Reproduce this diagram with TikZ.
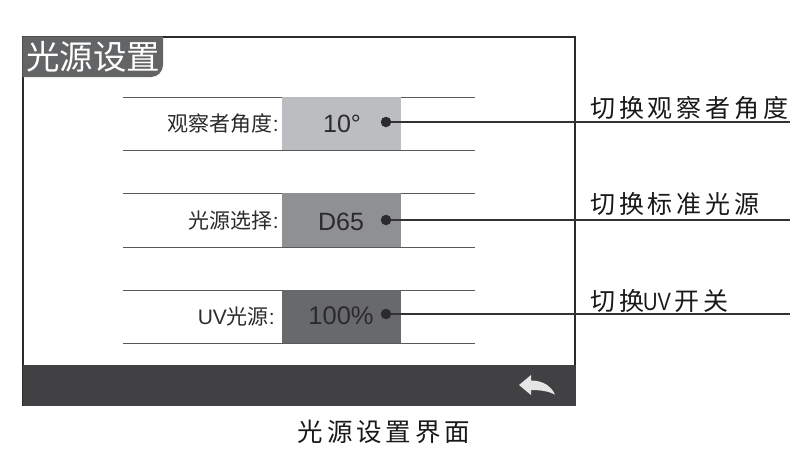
\documentclass[tikz,border=0pt]{standalone}
\usepackage{fontspec}
\setmainfont{Liberation Sans}
\newfontfamily\cjk{Noto Sans CJK SC}
\newfontfamily\cjkwide[LetterSpace=15.5]{Noto Sans CJK SC}
\newfontfamily\narrowlatin[FakeStretch=0.8]{Liberation Sans}
\definecolor{barGray}{HTML}{414042}
\definecolor{tabGray}{HTML}{636466}
\definecolor{boxA}{HTML}{BCBDC0}
\definecolor{boxB}{HTML}{8F9092}
\definecolor{boxC}{HTML}{68696B}
\definecolor{inkGray}{HTML}{2B2A2C}
\tikzset{
	x=1pt, y=-1pt,
	rowline/.style={line width=0.9pt, color=black!65},
	rowbox/.style={anchor=north west, minimum width=119pt, inner sep=0pt, outer sep=0pt},
	rowname/.style={anchor=east, inner sep=0pt, text=inkGray, font=\cjk\fontsize{21}{21}\selectfont},
	rowvalue/.style={inner sep=0pt, text=inkGray, font=\fontsize{25}{25}\selectfont},
	pointdot/.style={circle, fill=inkGray, minimum size=10.5pt, inner sep=0pt},
	leader/.style={line width=1.4pt, color=black!80},
	sidelabel/.style={anchor=west, inner sep=0pt, text=black!90, font=\cjkwide\fontsize{25}{25}\selectfont},
}
\begin{document}
\begin{tikzpicture}
	\useasboundingbox (0, 0) rectangle (805, 467);

	%%%%% screen %%%%%
	\draw[line width=1.2pt, color=inkGray] (23, 37) rectangle (575, 405);
	\fill[barGray] (23, 365) rectangle (575.6, 405.6);
	\fill[tabGray] (22.4, 36.4) -- (163, 36.4) -- (163, 65) arc (0:90:12) -- (22.4, 77) -- cycle;
	\node[inner sep=0pt, text=white, font=\cjk\fontsize{33.5}{33.5}\selectfont] (title) at (93, 57) {光源设置};

	%%%%% rows %%%%%
	\foreach \rowtop/\rowbot in {97/150, 193/247, 290/343} {
		\draw[rowline] (123, \rowtop) -- (475, \rowtop);
		\draw[rowline] (123, \rowbot) -- (475, \rowbot);
	}
	\node[rowbox, fill=boxA, minimum height=53pt] (boxa) at (282, 97) {};
	\node[rowbox, fill=boxB, minimum height=54pt] (boxb) at (282, 193) {};
	\node[rowbox, fill=boxC, minimum height=53pt] (boxc) at (282, 290) {};

	\node[rowname] (namea) at (279, 124) {\cjk 观察者角度\rmfamily:};
	\node[rowname] (nameb) at (279, 221) {\cjk 光源选择\rmfamily:};
	\node[rowname] (namec) at (275, 317) {\rmfamily UV\cjk 光源\rmfamily:};

	\node[rowvalue] (vala) at (342, 124) {10°};
	\node[rowvalue] (valb) at (341, 222) {D65};
	\node[rowvalue, font=\fontsize{25.5}{25.5}\selectfont] (valc) at (341, 316) {100\%};

	%%%%% leaders %%%%%
	\node[pointdot] (dota) at (386, 122) {};
	\node[pointdot] (dotb) at (386, 220) {};
	\node[pointdot] (dotc) at (386, 314) {};
	\coordinate (enda) at (790, 122);
	\coordinate (endb) at (790, 220);
	\coordinate (endc) at (790, 314);
	\draw[leader] (dota) -- (enda);
	\draw[leader] (dotb) -- (endb);
	\draw[leader] (dotc) -- (endc);

	\node[sidelabel] (labela) at (590, 108) {切换观察者角度};
	\node[sidelabel] (labelb) at (590, 204) {切换标准光源};
	\node[sidelabel] (labelc) at (590, 301) {切换\hspace{-1pt}{\narrowlatin UV}\hspace{4pt}开关};

	%%%%% back arrow %%%%%
	\fill[white!90!black] (519, 385) -- (531, 375) -- (531, 380.5)
		.. controls (543, 380.5) and (551, 386) .. (555, 394.5)
		.. controls (548, 391) and (540, 390) .. (531, 390)
		-- (531, 395) -- cycle;

	\node[inner sep=0pt, text=black!90, font=\cjkwide\fontsize{25.5}{25.5}\selectfont] (caption) at (384, 432) {光源设置界面};
\end{tikzpicture}
\end{document}
